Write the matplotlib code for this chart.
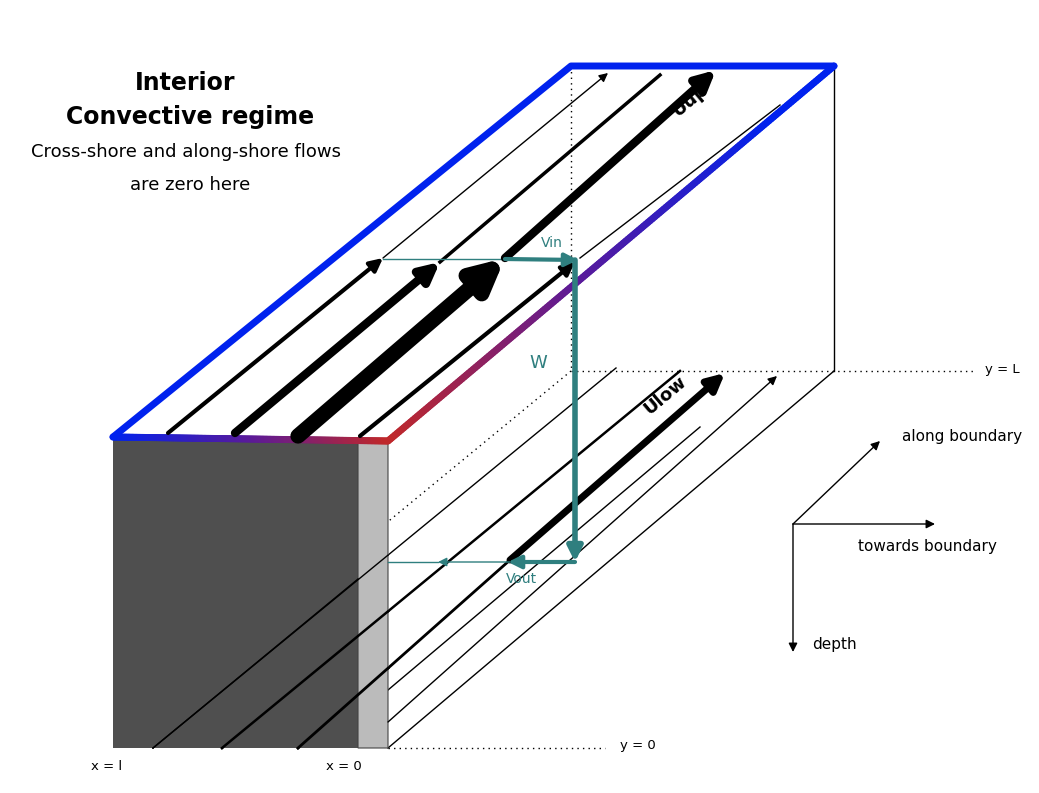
import numpy as np
import matplotlib
matplotlib.use('Agg')
from matplotlib import pyplot as plt
from matplotlib.collections import LineCollection
from matplotlib.colors import LinearSegmentedColormap

# key corners of the box (pixel coords, y down)
FRONT_TL = (113, 437)
FRONT_TR = (388, 441)
FRONT_BL = (113, 748)
FRONT_BR = (388, 748)
BACK_TL = (571, 66)
BACK_TR = (834, 66)
BACK_BL = (571, 371)
BACK_BR = (834, 371)

# top layer flow arrows: start, end, width
UP_ARROWS = [((168, 433), (383, 258), 3), ((235, 433), (440, 262), 6),
             ((298, 436), (505, 258), 11), ((360, 436), (575, 262), 3)]
UP_LINES = [((383, 258), (608, 73), 1, True), ((440, 262), (660, 75), 2.5, False),
            ((505, 258), (716, 70), 6, True), ((580, 258), (780, 105), 1, False)]
# lower layer flow lines
LOW_LINES = [((153, 748), (616, 368), 1, False), ((222, 748), (680, 371), 1.8, False),
             ((298, 748), (510, 560), 2, False), ((510, 560), (725, 373), 5, True),
             ((388, 722), (777, 376), 1, True), ((388, 690), (700, 427), 1, False)]

TEAL = '#2f7f7f'
BLUE = '#0022ee'
RED = '#c0282a'


def grad_line(ax, p0, p1, frac_blue=0.0):
    t = np.linspace(0, 1, 200)
    x = p0[0] + (p1[0] - p0[0]) * t
    y = p0[1] + (p1[1] - p0[1]) * t
    pts = np.array([x, y]).T.reshape(-1, 1, 2)
    segs = np.concatenate([pts[:-1], pts[1:]], axis=1)
    cmap = LinearSegmentedColormap.from_list('br', [BLUE, '#5a1a9a', RED])
    c = np.clip((t[:-1] - frac_blue) / (1 - frac_blue), 0, 1)
    lc = LineCollection(segs, colors=cmap(c), linewidth=5, capstyle='round')
    ax.add_collection(lc)


def arrow(ax, p0, p1, lw, color='black', head=True):
    if head:
        ax.annotate('', xy=p1, xytext=p0,
                    arrowprops=dict(arrowstyle='-|>', lw=lw, color=color,
                                    mutation_scale=10 + lw * 3, shrinkA=0, shrinkB=0))
    else:
        ax.plot([p0[0], p1[0]], [p0[1], p1[1]], color=color, lw=lw)


fig = plt.figure(figsize=(10.39, 7.93), dpi=100)
ax = fig.add_axes([0, 0, 1, 1])
ax.set_xlim(0, 1039)
ax.set_ylim(793, 0)
ax.axis('off')

# dotted hidden edges
dot = dict(color='black', lw=1, ls=(0, (1, 3)))
ax.plot([BACK_TL[0], BACK_BL[0]], [BACK_TL[1], BACK_BL[1]], **dot)
ax.plot([BACK_BL[0], 975], [BACK_BL[1], BACK_BR[1]], **dot)
ax.plot([BACK_BL[0], FRONT_BL[0]], [BACK_BL[1], FRONT_BL[1]], **dot)
ax.plot([FRONT_BR[0], 605], [748, 748], **dot)

# lower flows (behind front face)
for p0, p1, lw, head in LOW_LINES:
    arrow(ax, p0, p1, lw, head=head)
# solid edges
ax.plot([BACK_TR[0], BACK_BR[0]], [BACK_TR[1], BACK_BR[1]], color='black', lw=1)
ax.plot([BACK_BR[0], FRONT_BR[0]], [BACK_BR[1], FRONT_BR[1]], color='black', lw=1)

# front face
ax.add_patch(plt.Polygon([FRONT_TL, (358, 440), (358, 748), FRONT_BL],
                         facecolor='#4f4f4f', edgecolor='none', zorder=2))
ax.add_patch(plt.Polygon([(358, 440), FRONT_TR, FRONT_BR, (358, 748)],
                         facecolor='#bbbbbb', edgecolor='#444444', lw=0.8, zorder=2))
for p0, p1, lw, head in LOW_LINES[:3]:
    ln = ax.plot([p0[0], min(p1[0], 388)], [p0[1], p0[1] + (p1[1] - p0[1]) *
                 (min(p1[0], 388) - p0[0]) / (p1[0] - p0[0])], color='black', lw=lw, zorder=3)
ax.plot([153, 358], [748, 579], color='black', lw=1, zorder=3)

# top flows
for p0, p1, lw in UP_ARROWS:
    arrow(ax, p0, p1, lw)
for p0, p1, lw, head in UP_LINES:
    arrow(ax, p0, p1, lw, head=head)

# top face outline
ax.plot([FRONT_TL[0], BACK_TL[0], BACK_TR[0]], [FRONT_TL[1], BACK_TL[1], BACK_TR[1]],
        color=BLUE, lw=5, solid_capstyle='round', zorder=4)
grad_line(ax, BACK_TR, FRONT_TR, 0.15)
grad_line(ax, FRONT_TL, FRONT_TR, 0.0)

# teal circulation
ax.plot([383, 505], [259, 259], color=TEAL, lw=1)
arrow(ax, (505, 259), (578, 260), 3, TEAL)
arrow(ax, (575, 260), (575, 562), 4, TEAL)
arrow(ax, (575, 562), (508, 562), 3, TEAL)
arrow(ax, (510, 562), (438, 562), 1, TEAL)
ax.plot([438, 388], [562, 562], color=TEAL, lw=1)
ax.text(552, 243, 'Vin', color=TEAL, fontsize=10, ha='center', va='center')
ax.text(538, 363, 'W', color=TEAL, fontsize=13, ha='center', va='center')
ax.text(521, 579, 'Vout', color=TEAL, fontsize=10, ha='center', va='center')

# flow labels
ax.text(690, 100, 'Uup', fontsize=13, fontweight='bold', rotation=40, ha='center', va='center')
ax.text(665, 395, 'Ulow', fontsize=13, fontweight='bold', rotation=40, ha='center', va='center')

# title text
ax.text(185, 83, 'Interior', fontsize=17, fontweight='bold', ha='center', va='center')
ax.text(190, 117, 'Convective regime', fontsize=17, fontweight='bold', ha='center', va='center')
ax.text(186, 152, 'Cross-shore and along-shore flows', fontsize=13, ha='center', va='center')
ax.text(190, 185, 'are zero here', fontsize=13, ha='center', va='center')

# labels
ax.text(107, 767, 'x = l', fontsize=9.5, ha='center', va='center')
ax.text(344, 767, 'x = 0', fontsize=9.5, ha='center', va='center')
ax.text(638, 746, 'y = 0', fontsize=9.5, ha='center', va='center')
ax.text(1002, 370, 'y = L', fontsize=9.5, ha='center', va='center')

# orientation key
ORIGIN = (793, 524)
arrow(ax, ORIGIN, (880, 441), 1)
arrow(ax, ORIGIN, (935, 524), 1)
arrow(ax, ORIGIN, (793, 652), 1)
ax.text(902, 437, 'along boundary', fontsize=11, ha='left', va='center')
ax.text(858, 547, 'towards boundary', fontsize=11, ha='left', va='center')
ax.text(812, 644, 'depth', fontsize=11, ha='left', va='center')

fig.savefig('out.png', dpi=100)
